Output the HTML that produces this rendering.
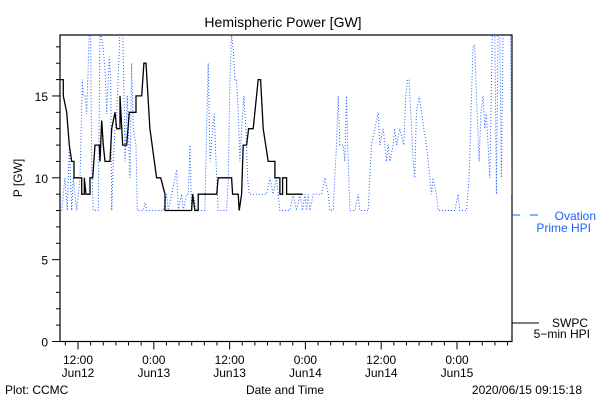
<!DOCTYPE html>
<html><head><meta charset="utf-8"><style>
html,body{margin:0;padding:0;background:#fff;}
svg{display:block;font-family:"Liberation Sans",sans-serif;}
</style></head><body>
<svg id="chart" width="600" height="400" viewBox="0 0 600 400" xmlns="http://www.w3.org/2000/svg">
<rect width="600" height="400" fill="#fff"/>
<text x="283" y="27" font-size="14" text-anchor="middle">Hemispheric Power [GW]</text>
<text x="0" y="0" font-size="12" text-anchor="middle" transform="translate(22,178) rotate(-90)">P [GW]</text>
<text x="285" y="394" font-size="12" text-anchor="middle">Date and Time</text>
<text x="5" y="394" font-size="12">Plot: CCMC</text>
<text x="582" y="394" font-size="12" text-anchor="end">2020/06/15 09:15:18</text>
<g id="axes"></g>
<g id="series"></g>
<g>
<line x1="512" y1="215" x2="520" y2="215" stroke="#1f5fff"/>
<line x1="530" y1="215" x2="538" y2="215" stroke="#1f5fff"/>
<text x="596" y="220" font-size="12" fill="#1f5fff" text-anchor="end">Ovation</text>
<text x="591" y="232" font-size="12" fill="#1f5fff" text-anchor="end">Prime HPI</text>
</g>
<g>
<line x1="512" y1="323" x2="539" y2="323" stroke="#000"/>
<text x="588" y="327" font-size="12" text-anchor="end">SWPC</text>
<text x="590" y="338" font-size="12" text-anchor="end">5−min HPI</text>
</g>
</svg>
<script>
// hours from 2020-06-12 00:00
const swpcTimes=[9.26,9.67,9.67,10.21,10.62,11.0,11.37,11.37,12.59,12.59,13.0,13.0,13.27,13.9,13.9,14.33,14.69,15.37,15.48,15.75,16.0,16.27,17.06,17.33,17.85,18.12,18.65,18.65,19.07,19.71,20.12,21.18,21.18,22.08,22.44,22.76,23.39,24.45,25.09,25.77,25.77,29.99,30.15,30.51,31.03,31.03,33.95,34.2,36.32,36.48,37.36,37.52,37.9,38.16,38.69,39.01,39.74,40.53,40.91,41.32,42.11,43.17,43.17,43.96,43.96,44.39,44.39,45.02,45.02,47.58];
const swpcValues=[16,16,15,14,12,11,11,10,10,9,9,10,9,9,10,10,12,12,11,13.5,12,11,11,13,14,13,13,15,12,12,14,14,15,15,17,17,13,10,10,9,8,8,9,8,8,9,9,10,10,9,9,8,9,12,12,13,13,16,16,13,11,11,10,10,9,9,10,10,9,9];
const ovTimes=[9.42,9.94,10.31,10.63,11.0,11.26,11.79,12.32,12.69,12.84,13.11,13.37,13.79,14.0,14.16,14.43,15.22,15.48,15.75,16.01,16.27,16.54,16.96,17.17,17.33,17.59,17.85,18.12,18.65,19.07,19.28,19.44,19.81,20.23,20.49,20.76,21.18,21.39,22.34,22.6,22.87,25.5,26.03,26.29,27.61,27.88,28.4,28.67,29.2,29.46,29.72,29.99,30.25,30.78,32.09,32.36,32.62,32.89,33.31,33.57,33.84,34.2,35.52,35.79,36.05,36.31,36.58,36.84,37.11,37.37,37.63,37.9,38.27,38.58,38.85,39.11,41.85,42.38,42.91,43.43,43.96,45.54,46.07,46.6,47.13,47.55,47.92,48.18,48.44,48.71,49.23,50.55,51.08,51.61,51.87,52.4,52.66,52.93,53.19,53.45,53.98,54.24,54.51,54.77,55.04,55.83,56.35,56.62,57.94,58.2,58.46,58.99,59.52,59.78,60.31,60.84,61.1,61.37,61.89,62.16,62.42,62.95,63.58,63.9,64.16,64.42,64.69,65.06,65.32,65.58,66.01,66.38,66.74,67.17,67.69,67.96,68.22,68.75,69.01,71.65,72.18,72.44,73.5,73.92,74.29,74.55,74.81,75.08,75.5,75.76,76.13,76.4,76.66,76.92,77.19,77.61,77.98,78.24,78.51,78.77,79.03,79.3,80.09,80.46,80.72,80.88];
const ovValues=[8,10,8,12,8,10,8,10,16,15,15,13.9,19,19,11,8,8,19,18.5,17.8,16.6,13.9,17.4,16,8,11,13,13.9,19,19,15,11,15,10,17,13,12,8,8,8.5,8,8,9,8,10.5,8,9,8,9,9,12,8,9,8,8,13,17,11,13,13.9,11,8,8,10,16,18.7,17.8,16,16,13.9,11,13,15,13,10,9,9,10,9,10,8,8,9,8,9,8,9,8,9,8,9,9,10,9,8,8,10,12,15,12,12,11,15,11,8,8,9,8,8,10,12,13,14,12,13,11,12,11,12,13,12,13,12,15,16,16,13.9,11,10,14,15,14,13,12,10,9,10,9,8,8,9,8,8,10,15,18.1,18.1,15,11,13.9,15,13,13.9,12,10,19,19,9,19,19,10,19,19,19,9,19];
const yTickLabels=["0","5","10","15"];
const xTickLabels=[["12:00","Jun12"],["0:00","Jun13"],["12:00","Jun13"],["0:00","Jun14"],["12:00","Jun14"],["0:00","Jun15"]];
const xTickHours=[12,24,36,48,60,72];

const NS="http://www.w3.org/2000/svg";
const L=60,R=512,T=35,B=341.5;
const pxPerHour=75.8/12, x0Hour=12-(78-L)/pxPerHour;
const yMax=(B-T)/16.37;
function xs(h){return L+(h-x0Hour)*pxPerHour;}
function ys(v){return B-v*16.37;}
function mk(tag,attrs,parent){const e=document.createElementNS(NS,tag);for(const k in attrs)e.setAttribute(k,attrs[k]);parent.appendChild(e);return e;}
const axes=document.getElementById('axes'),series=document.getElementById('series');
const frame=mk('rect',{x:L,y:T,width:R-L,height:B-T,fill:'none',stroke:'#000','stroke-width':1.2},axes);


for(let v=0;v<=18;v++){
  const len=v%5===0?8:4;
  const t=mk('line',{x1:L-len,y1:ys(v),x2:L,y2:ys(v),stroke:'#000'},axes);
  
  
}
yTickLabels.forEach(s=>{
  const t=mk('text',{x:L-12,y:ys(+s)+5,'font-size':12,'text-anchor':'end'},axes);t.textContent=s;
  
  
});
for(let h=10;h<=80;h+=2){
  const x=xs(h);if(x<L||x>R)continue;
  const len=h%12===0?8:4;
  const t=mk('line',{x1:x,y1:B,x2:x,y2:B+len,stroke:'#000'},axes);
  
  
}
xTickLabels.forEach((p,i)=>{
  const x=xs(xTickHours[i]);
  const t=mk('text',{x:x,y:364,'font-size':12,'text-anchor':'middle'},axes);t.textContent=p[0];
  
  
  const t2=mk('text',{x:x,y:377,'font-size':12,'text-anchor':'middle'},axes);t2.textContent=p[1];
  
  
});
const clip=mk('clipPath',{id:'pc'},series);mk('rect',{x:L,y:T,width:R-L,height:B-T},clip);
function pts(ts,vs){return ts.map((t,i)=>xs(t).toFixed(1)+','+ys(Math.min(vs[i],yMax+1)).toFixed(1)).join(' ');}
const ov=mk('polyline',{points:pts(ovTimes,ovValues),fill:'none',stroke:'#1f5fff','stroke-width':1,'stroke-dasharray':'1 2','clip-path':'url(#pc)'},series);


const sw=mk('polyline',{points:pts(swpcTimes,swpcValues),fill:'none',stroke:'#000','stroke-width':1.3,'clip-path':'url(#pc)'},series);


</script>
</body></html>
